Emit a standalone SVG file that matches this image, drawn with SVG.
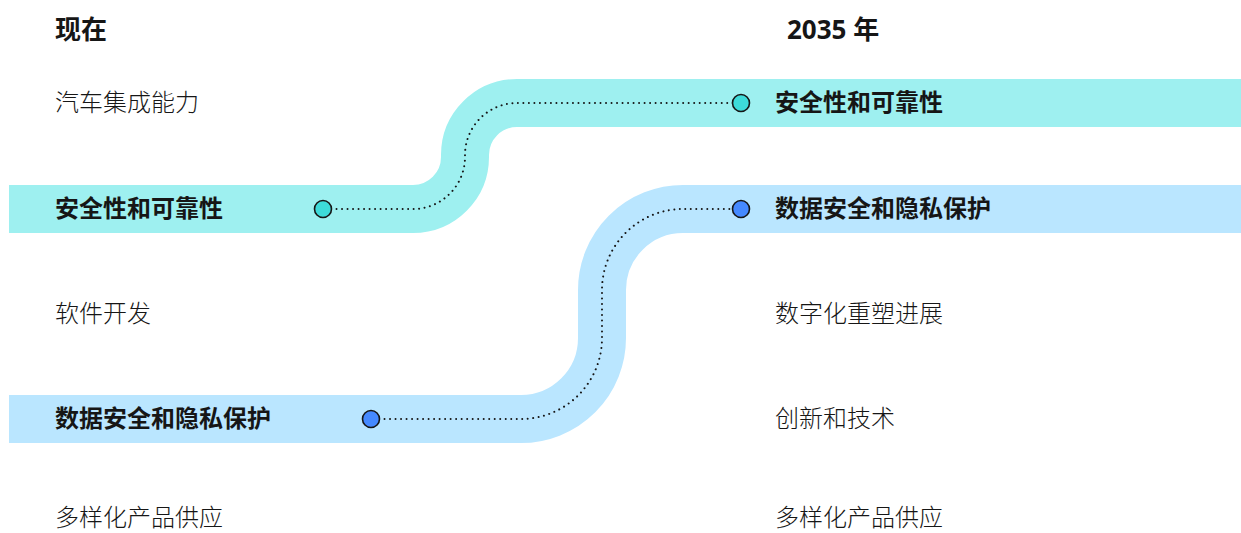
<svg xmlns="http://www.w3.org/2000/svg" width="1241" height="533" viewBox="0 0 1241 533">
<style>
.t{font-family:"Noto Sans CJK SC","Noto Sans",sans-serif;font-size:24px;fill:#161616}
.lt{font-weight:300}
.b{font-weight:700}
.h{font-family:"Noto Sans","Noto Sans CJK SC",sans-serif;font-size:26px;font-weight:700;fill:#161616}
.band{fill:none;stroke-width:48;stroke-linecap:butt}
.dot{fill:none;stroke:#161616;stroke-width:2;stroke-dasharray:0.01 5.5;stroke-linecap:round}
.c{stroke:#161616;stroke-width:1.6}
</style>
<rect width="1241" height="533" fill="#ffffff"/>
<g id="bands">
<path class="band" stroke="#9ef0f0" d="M9,209 H413 A52,52 0 0 0 465,157 V155 A52,52 0 0 1 517,103 H1241"/>
<path class="band" stroke="#bae6ff" d="M9,419 H521 A81,81 0 0 0 602,338 V290 A81,81 0 0 1 683,209 H1241"/>
</g>
<g id="connectors">
<path class="dot" d="M331,209 H413 A52,52 0 0 0 465,157 V155 A52,52 0 0 1 517,103 H733"/>
<path class="dot" d="M379,419 H521 A81,81 0 0 0 602,338 V290 A81,81 0 0 1 683,209 H733"/>
</g>
<g id="titles">
<text class="h" x="55" y="39">现在</text>
<text class="h" x="787" y="39">2035 年</text>
</g>
<g id="now-1"><text class="t lt" x="55" y="111">汽车集成能力</text></g>
<g id="now-2"><text class="t b" x="55" y="217">安全性和可靠性</text><circle class="c" cx="323" cy="209" r="8.5" fill="#3ddbd9"/></g>
<g id="now-3"><text class="t lt" x="55" y="322">软件开发</text></g>
<g id="now-4"><text class="t b" x="55" y="427">数据安全和隐私保护</text><circle class="c" cx="371" cy="419" r="8.5" fill="#4589ff"/></g>
<g id="now-5"><text class="t lt" x="55" y="526">多样化产品供应</text></g>
<g id="f-1"><circle class="c" cx="741" cy="103" r="8.5" fill="#3ddbd9"/><text class="t b" x="775" y="111">安全性和可靠性</text></g>
<g id="f-2"><circle class="c" cx="741" cy="209" r="8.5" fill="#4589ff"/><text class="t b" x="775" y="217">数据安全和隐私保护</text></g>
<g id="f-3"><text class="t lt" x="775" y="322">数字化重塑进展</text></g>
<g id="f-4"><text class="t lt" x="775" y="427">创新和技术</text></g>
<g id="f-5"><text class="t lt" x="775" y="526">多样化产品供应</text></g>
</svg>
